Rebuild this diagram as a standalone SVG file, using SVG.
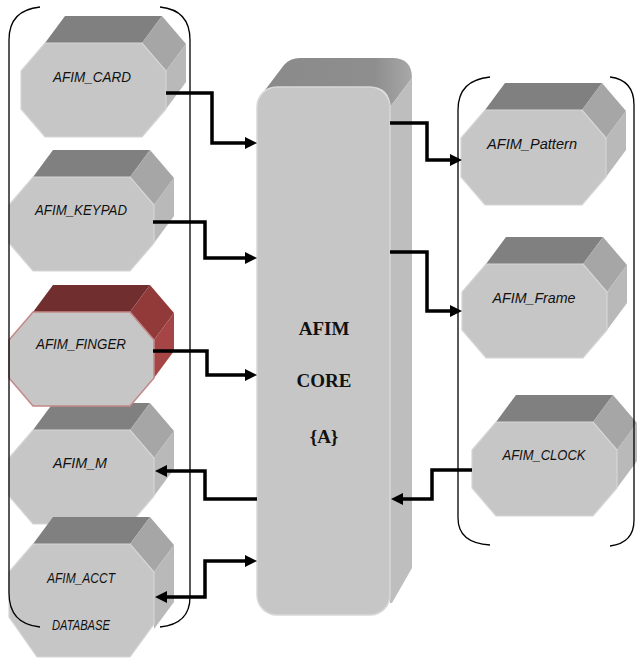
<svg xmlns="http://www.w3.org/2000/svg" width="637" height="660" viewBox="0 0 637 660">
<defs>
<style>
.front{fill:#c6c6c6;stroke:#d6d6d6;stroke-width:1.2}
.top{fill:#808080}
.ur{fill:#a6a6a6}
.rl{fill:#b9b9b9}
.ftop{fill:#712e2e}
.fur{fill:#923a3a}
.frl{fill:#a54545}
.ffront{fill:#c6c6c6;stroke:#c48888;stroke-width:1.5}
.lbl{font-family:"Liberation Sans",Arial,sans-serif;font-style:italic;font-size:14.5px;fill:#111;text-anchor:middle}
.core{font-family:"Liberation Serif","Times New Roman",serif;font-weight:bold;font-size:19px;fill:#111;text-anchor:middle}
.conn{fill:none;stroke:#000;stroke-width:3.5}
.br{fill:none;stroke:#000;stroke-width:1.3}
</style>
<marker id="ah" markerUnits="userSpaceOnUse" markerWidth="12" markerHeight="12" refX="6" refY="6" orient="auto-start-reverse">
<path d="M0,0 L12,6 L0,12 Z" fill="#000"/>
</marker>
<linearGradient id="ctop" x1="0" y1="0" x2="1" y2="0">
<stop offset="0" stop-color="#8a8a8a"/>
<stop offset="0.75" stop-color="#8e8e8e"/>
<stop offset="1" stop-color="#a8a8a8"/>
</linearGradient>
</defs>

<g id="AFIM_CARD" transform="translate(21,43)">
<polygon class="top" points="24,0 44,-27 141,-27 121,0"/>
<polygon class="ur" points="121,0 141,-27 165,1 145,28"/>
<polygon class="rl" points="145,28 165,1 165,39 145,66"/>
<polygon class="front" points="24,0 121,0 145,28 145,66 121,94 24,94 0,66 0,28"/>
<text class="lbl" x="71" y="39" textLength="78" lengthAdjust="spacingAndGlyphs">AFIM_CARD</text>
</g>

<g id="AFIM_KEYPAD" transform="translate(9,177)">
<polygon class="top" points="24,0 44,-27 141,-27 121,0"/>
<polygon class="ur" points="121,0 141,-27 165,1 145,28"/>
<polygon class="rl" points="145,28 165,1 165,39 145,66"/>
<polygon class="front" points="24,0 121,0 145,28 145,66 121,94 24,94 0,66 0,28"/>
<text class="lbl" x="72" y="38" textLength="92" lengthAdjust="spacingAndGlyphs">AFIM_KEYPAD</text>
</g>

<g id="AFIM_M" transform="translate(9,430)">
<polygon class="top" points="24,0 44,-27 141,-27 121,0"/>
<polygon class="ur" points="121,0 141,-27 165,1 145,28"/>
<polygon class="rl" points="145,28 165,1 165,39 145,66"/>
<polygon class="front" points="24,0 121,0 145,28 145,66 121,94 24,94 0,66 0,28"/>
<text class="lbl" x="71" y="38" textLength="54" lengthAdjust="spacingAndGlyphs">AFIM_M</text>
</g>

<g id="AFIM_FINGER" transform="translate(9,312)">
<polygon class="ftop" points="24,0 44,-27 141,-27 121,0"/>
<polygon class="fur" points="121,0 141,-27 165,1 145,28"/>
<polygon class="frl" points="145,28 165,1 165,39 145,66"/>
<polygon class="ffront" points="24,0 121,0 145,28 145,66 121,94 24,94 0,66 0,28"/>
<text class="lbl" x="72" y="37" textLength="90" lengthAdjust="spacingAndGlyphs">AFIM_FINGER</text>
</g>

<g id="AFIM_ACCT" transform="translate(9,544)">
<polygon class="top" points="24,0 44,-27 141,-27 121,0"/>
<polygon class="ur" points="121,0 141,-27 165,1 145,28"/>
<polygon class="rl" points="145,28 165,1 165,58 145,85"/>
<polygon class="front" points="24,0 121,0 145,28 145,80 121,113 28,113 0,73 0,28"/>
<text class="lbl" x="72" y="39" font-size="13.5" textLength="68" lengthAdjust="spacingAndGlyphs">AFIM_ACCT</text>
<text class="lbl" x="72" y="86" font-size="12.5" textLength="58" lengthAdjust="spacingAndGlyphs">DATABASE</text>
</g>

<g id="AFIM_Pattern" transform="translate(461,110)">
<polygon class="top" points="24,0 44,-27 141,-27 121,0"/>
<polygon class="ur" points="121,0 141,-27 165,1 145,28"/>
<polygon class="rl" points="145,28 165,1 165,40 145,67"/>
<polygon class="front" points="24,0 121,0 145,28 145,67 121,95 24,95 0,67 0,28"/>
<text class="lbl" x="71" y="39" textLength="90" lengthAdjust="spacingAndGlyphs">AFIM_Pattern</text>
</g>

<g id="AFIM_Frame" transform="translate(462,264)">
<polygon class="top" points="24,0 44,-27 141,-27 121,0"/>
<polygon class="ur" points="121,0 141,-27 165,1 145,28"/>
<polygon class="rl" points="145,28 165,1 165,39 145,66"/>
<polygon class="front" points="24,0 121,0 145,28 145,66 121,94 24,94 0,66 0,28"/>
<text class="lbl" x="72" y="39" textLength="83" lengthAdjust="spacingAndGlyphs">AFIM_Frame</text>
</g>

<g id="AFIM_CLOCK" transform="translate(472,422)">
<polygon class="top" points="24,0 44,-27 141,-27 121,0"/>
<polygon class="ur" points="121,0 141,-27 165,1 145,28"/>
<polygon class="rl" points="145,28 165,1 165,39 145,66"/>
<polygon class="front" points="24,0 121,0 145,28 145,66 121,94 24,94 0,66 0,28"/>
<text class="lbl" x="72" y="38" textLength="83" lengthAdjust="spacingAndGlyphs">AFIM_CLOCK</text>
</g>

<g id="AFIM_CORE">
<path d="M262,94 L284,65 Q290,58 300,58 L392,58 Q412,58 412,78 L390,107 Q390,87 370,87 L277,87 Q265,87 262,94 Z" fill="url(#ctop)"/>
<path d="M390,107 L412,78 L412,568 L392,603 L390,603 Z" fill="#bebebe"/>
<rect x="257" y="87" width="133" height="528" rx="20" ry="20" fill="#c6c6c6" stroke="#d8d8d8" stroke-width="1.5"/>
<text class="core" x="324" y="335">AFIM</text>
<text class="core" x="324" y="387">CORE</text>
<text class="core" x="324" y="443">{A}</text>
</g>

<g id="brackets">
<path class="br" d="M40,7 Q9,10 9,40 L9,593 Q9,624 40,627"/>
<path class="br" d="M160,7 Q190,10 190,40 L190,597 Q190,624 160,627"/>
<path class="br" d="M490,77 Q458,80 458,110 L458,518 Q458,543 490,545"/>
<path class="br" d="M610,77 Q634,80 634,105 L634,520 Q634,543 610,546"/>
</g>

<g id="connectors">
<path class="conn" d="M166,93 H212 V143 H251" marker-end="url(#ah)"/>
<path class="conn" d="M153,222 H205 V258 H251" marker-end="url(#ah)"/>
<path class="conn" d="M153,351 H207 V375 H251" marker-end="url(#ah)"/>
<path class="conn" d="M257,499 H205 V471 H161" marker-end="url(#ah)"/>
<path class="conn" d="M251,561 H205 V597 H161" marker-start="url(#ah)" marker-end="url(#ah)"/>
<path class="conn" d="M390,123 H427 V160 H456" marker-end="url(#ah)"/>
<path class="conn" d="M390,252 H427 V311 H456" marker-end="url(#ah)"/>
<path class="conn" d="M472,470 H432 V499 H397" marker-end="url(#ah)"/>
</g>
</svg>
